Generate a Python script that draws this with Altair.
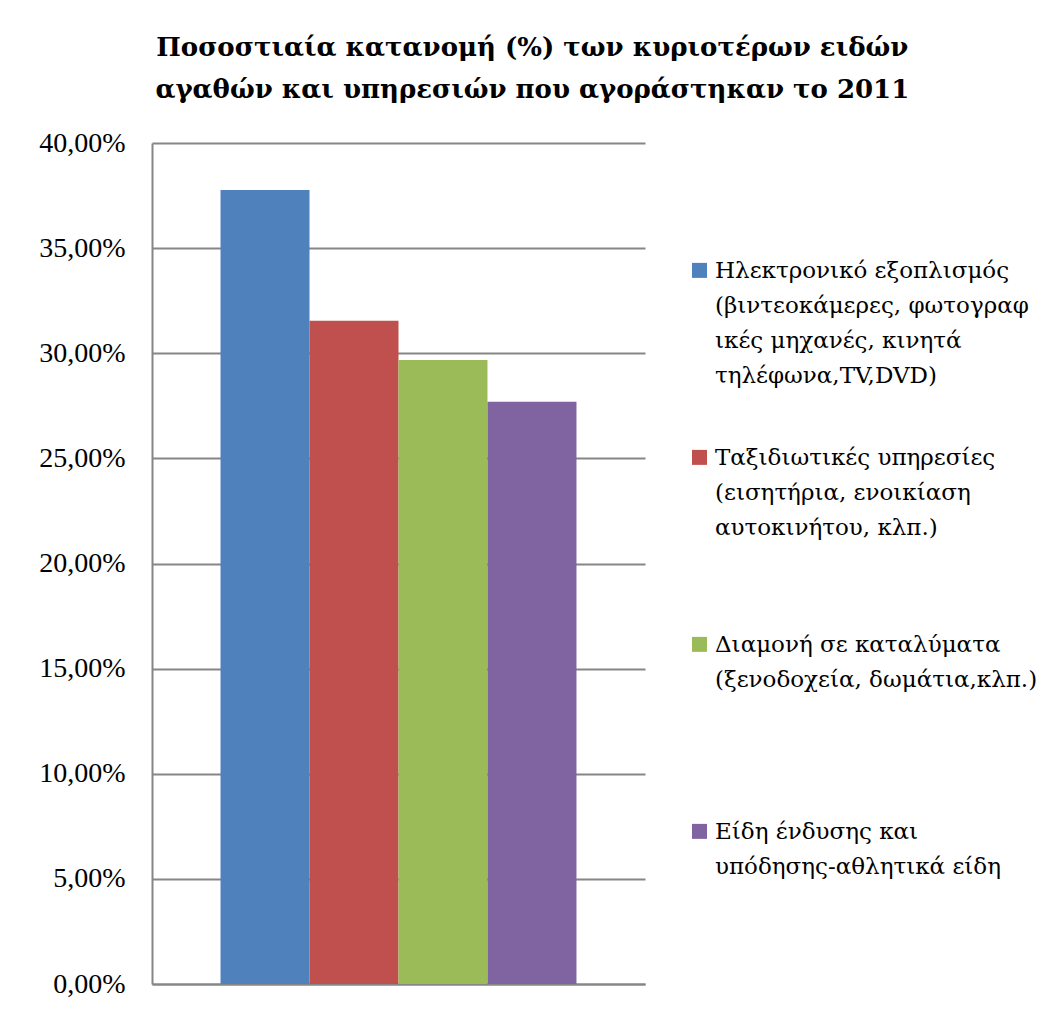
import altair as alt
import pandas as pd

# Legend / category labels ("|" marks a line break as in the original legend)
categories = [
    "Ηλεκτρονικό εξοπλισμός|(βιντεοκάμερες, φωτογραφ|ικές μηχανές, κινητά|τηλέφωνα,TV,DVD)",
    "Ταξιδιωτικές υπηρεσίες|(εισητήρια, ενοικίαση|αυτοκινήτου, κλπ.)",
    "Διαμονή σε καταλύματα|(ξενοδοχεία, δωμάτια,κλπ.)",
    "Είδη ένδυσης  και|υπόδησης-αθλητικά είδη",
]
values = [37.76, 31.54, 29.68, 27.69]
colors = ["#4F81BD", "#C0504D", "#9BBB59", "#8064A2"]
y_ticks = [0, 5, 10, 15, 20, 25, 30, 35, 40]
title_lines = [
    "Ποσοστιαία κατανομή (%) των κυριοτέρων ειδών",
    "αγαθών και υπηρεσιών που αγοράστηκαν το 2011",
]

df = pd.DataFrame({"category": categories, "value": values})

FONT = "Liberation Serif"
GREEK_FONT = "DejaVu Serif"
GRID = "#868686"

chart = (
    alt.Chart(df)
    .mark_bar()
    .encode(
        x=alt.X(
            "category:N",
            sort=categories,
            scale=alt.Scale(paddingInner=0, paddingOuter=0.77),
            axis=alt.Axis(labels=False, ticks=False, title=None,
                          domainColor=GRID, domainWidth=2),
        ),
        y=alt.Y(
            "value:Q",
            scale=alt.Scale(domain=[0, 40]),
            axis=alt.Axis(
                values=y_ticks,
                labelExpr="replace(format(datum.value / 100, '.2%'), '.', ',')",
                title=None,
                ticks=False,
                labelPadding=27,
                labelFont=FONT,
                labelFontSize=28,
                labelColor="black",
                domainColor=GRID,
                domainWidth=2,
                gridColor=GRID,
                gridWidth=2,
            ),
        ),
        color=alt.Color(
            "category:N",
            sort=categories,
            scale=alt.Scale(domain=categories, range=colors),
            legend=alt.Legend(
                title=None,
                orient="none",
                legendX=536,
                legendY=105,
                labelExpr="split(datum.label, '|')",
                labelFont=GREEK_FONT,
                labelFontSize=23,
                labelColor="black",
                labelBaseline="top",
                labelLimit=0,
                labelOffset=4,
                symbolType="M-1,0.45H1V2.45H-1Z",
                symbolSize=225,
                symbolStrokeWidth=0,
                symbolOpacity=1,
                gridAlign="all",
                rowPadding=47,
            ),
        ),
    )
    .properties(
        width=493,
        height=841,
        padding={"left": 38, "top": 35, "right": 5, "bottom": 5},
        title=alt.Title(
            title_lines,
            font=GREEK_FONT,
            fontSize=26,
            fontWeight="bold",
            color="black",
            anchor="middle",
            frame="bounds",
            lineHeight=42,
            offset=26,
            dx=-6,
        ),
    )
    .configure(style={"guide-label": {"lineHeight": 35}})
    .configure_view(stroke="transparent")
)

chart.save("out.html", embed_options={"renderer": "svg", "actions": False})
